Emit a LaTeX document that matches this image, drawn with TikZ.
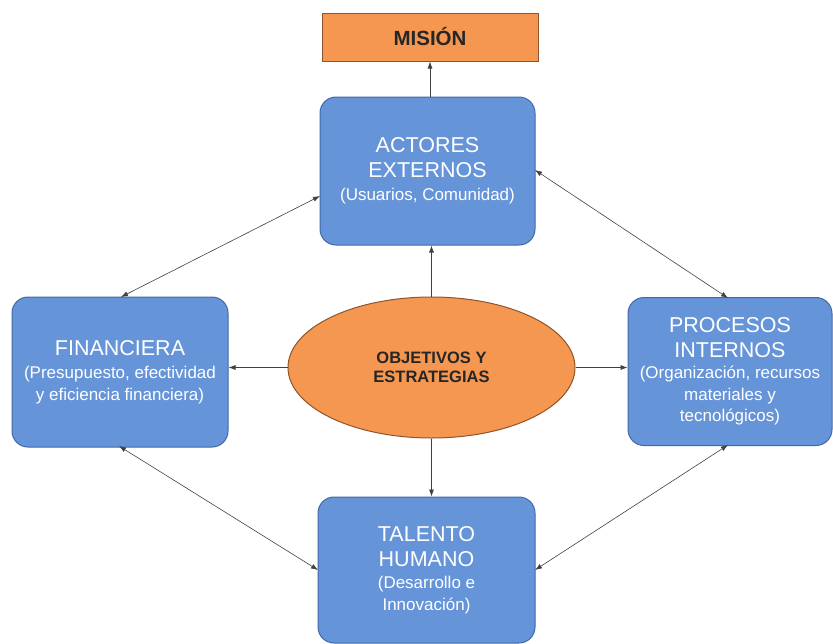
\documentclass[tikz,border=0pt]{standalone}
\usepackage{fontspec}
\setmainfont{Liberation Sans}
\usetikzlibrary{shapes.geometric,arrows.meta}
\definecolor{boxblue}{RGB}{102,148,216}
\definecolor{boxedge}{RGB}{66,104,168}
\definecolor{orfill}{RGB}{245,151,80}
\definecolor{oredge}{RGB}{140,85,45}
\newcommand{\subtxt}{\fontsize{17}{20.5}\selectfont}
\begin{document}
\begin{tikzpicture}[x=1pt,y=-1pt,
  bluebox/.style={draw=boxedge,line width=1pt,fill=boxblue,rounded corners=16pt,text=white,align=center,inner sep=0pt,font=\fontsize{21.5}{24.5}\selectfont},
  arr/.style={-{Latex[length=7pt,width=5pt]},line width=0.6pt,draw=black!75},
  darr/.style={{Latex[length=7pt,width=5pt]}-{Latex[length=7pt,width=5pt]},line width=0.6pt,draw=black!75}]
\useasboundingbox (0,0) rectangle (833,643);
\node[draw=oredge,line width=1pt,fill=orfill,minimum width=216pt,minimum height=48pt,inner sep=0pt,text=black!85,font=\bfseries\fontsize{20.5}{22}\selectfont] (mision) at (430,37) {MISIÓN};
\node[bluebox,minimum width=215pt,minimum height=148pt] (act) at (427.5,171) {ACTORES\\EXTERNOS\\[-1pt]\subtxt(Usuarios, Comunidad)};
\node[bluebox,minimum width=216pt,minimum height=150pt] (fin) at (120,372) {FINANCIERA\\[-1pt]\subtxt(Presupuesto, efectividad\\[-3pt]\subtxt y eficiencia financiera)};
\node[bluebox,minimum width=204pt,minimum height=148pt] (pro) at (730,371.5) {PROCESOS\\INTERNOS\\[-3pt]\subtxt(Organización, recursos\\[-3pt]\subtxt materiales y\\[-3pt]\subtxt tecnológicos)};
\node[bluebox,minimum width=217pt,minimum height=146pt] (tal) at (426.5,570) {TALENTO\\HUMANO\\[-2pt]\subtxt(Desarrollo e\\[-3pt]\subtxt Innovación)};
\node[ellipse,draw=oredge,line width=1pt,fill=orfill,minimum width=287pt,minimum height=141pt,inner sep=0pt,align=center,text=black!85,font=\bfseries\fontsize{16.5}{19}\selectfont] (obj) at (431.5,367.5) {OBJETIVOS Y\\ESTRATEGIAS};
\draw[arr] (act.north -| mision.south) -- (mision.south);
\draw[arr] (obj.north) -- (obj.north |- act.south);
\draw[arr] (obj.west) -- (fin.east |- obj.west);
\draw[arr] (obj.east) -- (pro.west |- obj.east);
\draw[arr] (obj.south) -- (obj.south |- tal.north);
\coordinate (a1) at (320,196);
\coordinate (f1) at (121,297);
\draw[darr] (f1) -- (a1);
\coordinate (a2) at (535,170);
\coordinate (p1) at (728,298);
\draw[darr] (a2) -- (p1);
\coordinate (f2) at (119,446);
\coordinate (t1) at (318,570);
\draw[darr] (f2) -- (t1);
\coordinate (p2) at (728,445);
\coordinate (t2) at (535,570);
\draw[darr] (p2) -- (t2);
\end{tikzpicture}
\end{document}
